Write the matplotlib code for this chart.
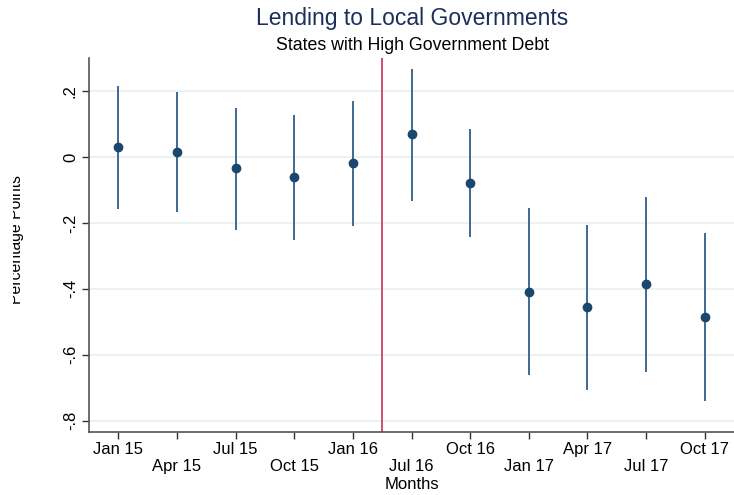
import numpy as np
import matplotlib
matplotlib.use('Agg')
import matplotlib.pyplot as plt
from matplotlib.patches import Rectangle

months = ['Jan 15', 'Apr 15', 'Jul 15', 'Oct 15', 'Jan 16',
          'Jul 16', 'Oct 16', 'Jan 17', 'Apr 17', 'Jul 17', 'Oct 17']
coef = [0.029, 0.015, -0.035, -0.062, -0.018,
        0.069, -0.079, -0.408, -0.455, -0.386, -0.486]
ci_low = [-0.158, -0.167, -0.222, -0.251, -0.209,
          -0.133, -0.243, -0.662, -0.706, -0.653, -0.741]
ci_high = [0.214, 0.196, 0.148, 0.126, 0.169,
           0.268, 0.085, -0.156, -0.205, -0.120, -0.232]
yticks = [0.2, 0, -0.2, -0.4, -0.6, -0.8]
ytick_labels = ['.2', '0', '-.2', '-.4', '-.6', '-.8']

plt.rcParams['font.family'] = ['Liberation Sans', 'DejaVu Sans']

fig = plt.figure(figsize=(7.34, 4.95), dpi=100)
ax = fig.add_axes([89 / 734, 1 - 432 / 495, 1 - 89 / 734, (432 - 58) / 495])

x = np.arange(len(months))
ax.vlines(x, ci_low, ci_high, color='#3f6892', linewidth=1.4, zorder=3)
ax.plot(x, coef, 'o', color='#1a476f', markersize=6, zorder=4)
ax.axvline(4.5, color='#cf4f6e', linewidth=1.4, zorder=2)

ax.set_xlim(-0.5, 10.5)
ax.set_ylim(-0.834, 0.3)
ax.set_yticks(yticks)
ax.set_yticklabels(ytick_labels, rotation=90, va='center', fontsize=12)
ax.set_xticks(x)
ax.set_xticklabels(months, fontsize=12)
ax.tick_params(axis='both', direction='out', length=5, width=1, color='#333333')
ax.tick_params(axis='y', pad=3)
ax.tick_params(axis='x', pad=2.5)
for t in ax.xaxis.get_major_ticks()[1::2]:
    t.set_pad(2.5 + 11.7)

ax.grid(axis='y', color='#e8f0f0', linewidth=1.2, zorder=0)
ax.set_axisbelow(True)
for s in ['top', 'right']:
    ax.spines[s].set_visible(False)
for s in ['left', 'bottom']:
    ax.spines[s].set_color('#555555')
    ax.spines[s].set_linewidth(1.2)

ax.set_xlabel('Months', fontsize=12)
ax.xaxis.set_label_coords(0.5, -0.121)
fig.text(0.5614, 1 - 18 / 495, 'Lending to Local Governments', ha='center', va='center',
         fontsize=16.5, color='#1c2f5b')
fig.text(0.5614, 1 - 45 / 495, 'States with High Government Debt', ha='center',
         va='center', fontsize=12.8, color='black')
fig.text(24.5 / 734, 1 - 239 / 495, 'Percentage Points', rotation=90, ha='right',
         va='center', fontsize=11.3, color='black')
# the left edge of the original picture is cut off
fig.patches.append(Rectangle((0, 0), 12.7 / 734, 1, transform=fig.transFigure,
                             facecolor='white', edgecolor='none', zorder=10))

fig.savefig('out.png', dpi=100)
